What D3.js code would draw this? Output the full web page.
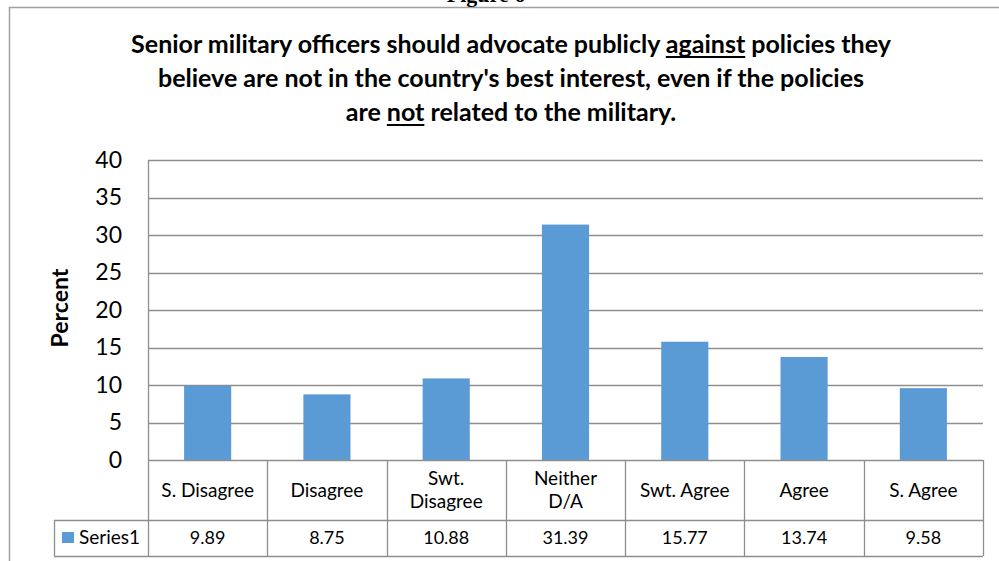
<!DOCTYPE html>
<html><head><meta charset="utf-8">
<script src="https://cdn.jsdelivr.net/npm/d3@7"></script>
<style>body{margin:0;background:#fff}svg{display:block}</style>
</head><body><svg id="c" width="999" height="561"></svg>
<script>
const categories = ["S. Disagree","Disagree","Swt. Disagree","Neither D/A","Swt. Agree","Agree","S. Agree"];
const categoryLines = [["S. Disagree"],["Disagree"],["Swt.","Disagree"],["Neither","D/A"],["Swt. Agree"],["Agree"],["S. Agree"]];
const values = [9.89,8.75,10.88,31.39,15.77,13.74,9.58];
const valueLabels = ["9.89","8.75","10.88","31.39","15.77","13.74","9.58"];
const yTicks = [0,5,10,15,20,25,30,35,40];
const seriesName = "Series1";
const yLabel = "Percent";
const figureLabel = "Figure 6";
const titleLines = [
  [{t:"Senior military officers should advocate publicly "},{t:"against",u:true},{t:" policies they"}],
  [{t:"believe are not in the country's best interest, even if the policies"}],
  [{t:"are "},{t:"not",u:true},{t:" related to the military."}]
];

(function(){
const svg = d3.select("#c");
const FONT = "Lato, 'Open Sans', sans-serif";
const pL = 148, pR = 983, pT = 160, zeroY = 460, row1 = 520, row2 = 556, legendLeft = 54;
const x = d3.scaleBand().domain(categories).range([pL, pR]).padding(0);
const y = d3.scaleLinear().domain([0, 40]).range([zeroY, pT]);
const gridColor = "#8e8e8e";

// outer frame
svg.append("line").attr("x1",9).attr("x2",999).attr("y1",7.5).attr("y2",7.5).attr("stroke","#a0a0a0").attr("stroke-width",1.5);
svg.append("line").attr("x1",9.5).attr("x2",9.5).attr("y1",7).attr("y2",561).attr("stroke","#a0a0a0").attr("stroke-width",1.5);

// figure caption (cut off at the top, as in the source)
svg.append("text").attr("x",486).attr("y",2).attr("text-anchor","middle")
  .attr("font-family","'Liberation Serif', serif").attr("font-weight","bold").attr("font-size",22).text(figureLabel);

// title
const titleBaselines = [53, 87, 121];
const tTexts = titleLines.map((segs, i) => {
  const t = svg.append("text").attr("x", 511).attr("y", titleBaselines[i]).attr("text-anchor","middle")
    .attr("font-family", FONT).attr("font-weight","bold").attr("font-size",22).attr("fill","#000")
    .text(segs.map(s => s.t).join(""));
  return t;
});
const w0 = tTexts[0].node().getComputedTextLength();
const fs = 22 * 760 / w0;
tTexts.forEach(t => t.attr("font-size", fs));
// underlines
titleLines.forEach((segs, i) => {
  const node = tTexts[i].node();
  let idx = 0;
  segs.forEach(s => {
    if (s.u) {
      const x1 = node.getStartPositionOfChar(idx).x;
      const x2 = node.getEndPositionOfChar(idx + s.t.length - 1).x;
      svg.append("rect").attr("x", x1).attr("y", titleBaselines[i] + 3).attr("width", x2 - x1).attr("height", 2).attr("fill", "#000");
    }
    idx += s.t.length;
  });
});

// gridlines
svg.append("g").selectAll("line").data(yTicks.filter(d => d > 0)).join("line")
  .attr("x1", pL).attr("x2", pR)
  .attr("y1", d => Math.round(y(d)) + 0.5).attr("y2", d => Math.round(y(d)) + 0.5)
  .attr("stroke", gridColor).attr("stroke-width", 1.3);

// bars
const barW = x.bandwidth() * 0.395;
svg.append("g").selectAll("rect").data(values).join("rect")
  .attr("x", (d, i) => x(categories[i]) + (x.bandwidth() - barW) / 2)
  .attr("width", barW)
  .attr("y", d => y(d))
  .attr("height", d => y(0) - y(d))
  .attr("fill", "#5b9bd5");

// y axis labels
const yAxis = d3.axisLeft(y).tickValues(yTicks).tickSize(0).tickPadding(26);
const ga = svg.append("g").attr("transform", `translate(${pL},0)`).call(yAxis);
ga.select(".domain").remove();
ga.selectAll("text").attr("font-family", FONT).attr("font-size", 23).attr("fill", "#000");

// y label
svg.append("text").attr("transform", "translate(68,308) rotate(-90)").attr("text-anchor","middle")
  .attr("font-family", FONT).attr("font-weight","bold").attr("font-size",23).text(yLabel);

// table lines
const tl = svg.append("g").attr("stroke", gridColor).attr("stroke-width", 1.3);
tl.append("line").attr("x1", pL).attr("x2", pR).attr("y1", zeroY + 0.5).attr("y2", zeroY + 0.5);
tl.append("line").attr("x1", legendLeft).attr("x2", pR).attr("y1", row1 + 0.5).attr("y2", row1 + 0.5);
tl.append("line").attr("x1", legendLeft).attr("x2", pR).attr("y1", row2 + 0.5).attr("y2", row2 + 0.5);
tl.append("line").attr("x1", pL + 0.5).attr("x2", pL + 0.5).attr("y1", pT).attr("y2", row2);
tl.append("line").attr("x1", legendLeft + 0.5).attr("x2", legendLeft + 0.5).attr("y1", row1).attr("y2", row2);
tl.selectAll(".v").data(categories).join("line").attr("class","v")
  .attr("x1", d => Math.round(x(d) + x.bandwidth()) + 0.5).attr("x2", d => Math.round(x(d) + x.bandwidth()) + 0.5)
  .attr("y1", zeroY).attr("y2", row2);

// category labels
const cg = svg.append("g").attr("font-family", FONT).attr("fill", "#000").attr("text-anchor","middle");
categories.forEach((c, i) => {
  const lines = categoryLines[i];
  const cx = x(c) + x.bandwidth() / 2;
  const base = lines.length === 1 ? [497] : [485, 508];
  lines.forEach((l, j) => cg.append("text").attr("x", cx).attr("y", base[j]).attr("font-size", 19).text(l));
  cg.append("text").attr("x", cx).attr("y", 544).attr("font-size", 18).text(valueLabels[i]);
});

// legend
svg.append("rect").attr("x", 62).attr("y", 532).attr("width", 12).attr("height", 11).attr("fill", "#5b9bd5");
svg.append("text").attr("x", 79).attr("y", 544).attr("font-family", FONT).attr("font-size", 19).text(seriesName);
})();
</script></body></html>
